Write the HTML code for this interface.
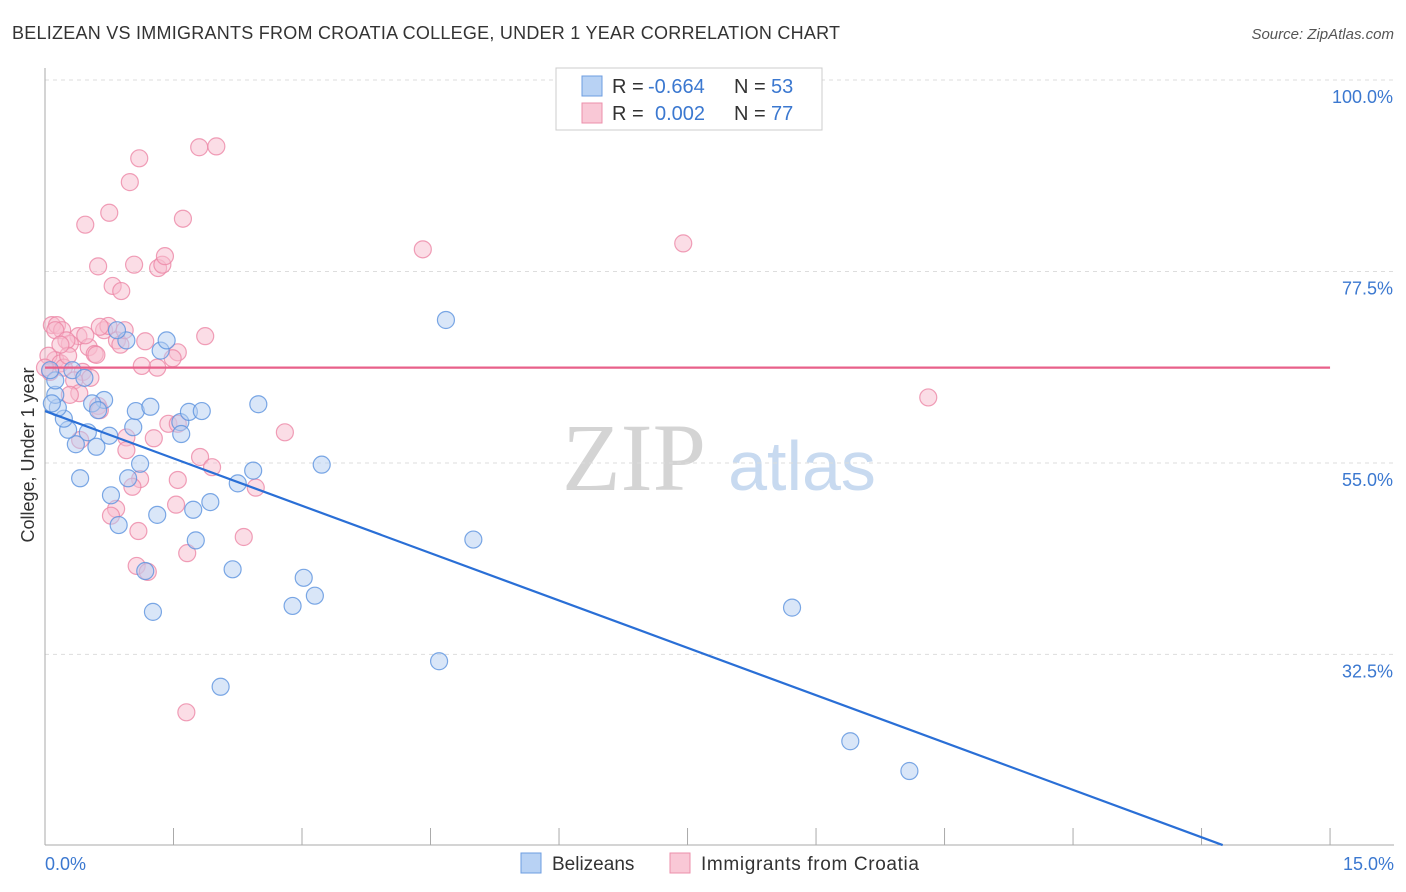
<!DOCTYPE html>
<html><head><meta charset="utf-8"><style>
body{margin:0;background:#fff;font-family:"Liberation Sans",sans-serif;}
#wrap{position:relative;width:1406px;height:892px;overflow:hidden;}
svg{position:absolute;left:0;top:0}
</style></head><body>
<div id="wrap">
<svg id="svg" width="1406" height="892">
<text x="12" y="39" font-size="18" fill="#333" textLength="828">BELIZEAN VS IMMIGRANTS FROM CROATIA COLLEGE, UNDER 1 YEAR CORRELATION CHART</text>
<text x="1394" y="39" font-size="15" fill="#555" font-style="italic" text-anchor="end">Source: ZipAtlas.com</text>
<text x="634" y="490" font-size="96" fill="#d4d4d4" font-family="Liberation Serif,serif" text-anchor="middle">ZIP</text>
<text x="802" y="490" font-size="70" fill="#c8daf0" text-anchor="middle">atlas</text>
<g id="grid"></g><g id="pts"></g><g id="lines"></g>
<text x="34" y="455" font-size="18" fill="#333" text-anchor="middle" transform="rotate(-90 34 455)">College, Under 1 year</text>
<text x="45" y="870" font-size="18" fill="#3b78d0">0.0%</text>
<text x="1394" y="870" font-size="18" fill="#3b78d0" text-anchor="end">15.0%</text>
<g>
<rect x="556" y="68" width="266" height="62" fill="#fff" stroke="#ccc"/>
<rect x="582" y="76" width="20" height="20" fill="#b8d2f4" stroke="#6d9de0"/>
<rect x="582" y="103" width="20" height="20" fill="#f9c8d6" stroke="#ec8fab"/>
<text x="612" y="93" font-size="20" fill="#333">R =</text>
<text x="648" y="93" font-size="20" fill="#3b78d0">-0.664</text>
<text x="734" y="93" font-size="20" fill="#333">N =</text>
<text x="771" y="93" font-size="20" fill="#3b78d0">53</text>
<text x="612" y="120" font-size="20" fill="#333">R =</text>
<text x="655" y="120" font-size="20" fill="#3b78d0">0.002</text>
<text x="734" y="120" font-size="20" fill="#333">N =</text>
<text x="771" y="120" font-size="20" fill="#3b78d0">77</text>
</g>
<g>
<rect x="521" y="853" width="20" height="20" fill="#b8d2f4" stroke="#6d9de0"/>
<text x="552" y="870" font-size="19" fill="#333">Belizeans</text>
<rect x="670" y="853" width="20" height="20" fill="#f9c8d6" stroke="#ec8fab"/>
<text x="701" y="870" font-size="19" fill="#333" textLength="218">Immigrants from Croatia</text>
</g>
</svg>
</div>
<script>
const yTicks=[100,77.5,55,32.5];
const yTickLabels=["100.0%","77.5%","55.0%","32.5%"];
const xTicks=[0,1.5,3,4.5,6,7.5,9,10.5,12,13.5,15];
const blueX=[4.68,2.49,3.23,5.00,8.72,4.60,9.40,10.09,2.05,1.26,2.19,2.89,3.02,3.15,2.43,2.25,1.93,1.73,1.76,1.31,1.17,0.77,0.86,0.41,0.97,1.11,1.03,1.06,1.23,1.58,1.59,1.68,1.83,1.35,1.42,0.95,0.84,0.32,0.46,0.69,0.55,0.62,0.50,0.75,0.60,0.36,0.27,0.22,0.15,0.12,0.08,0.12,0.06];
const blueY=[71.8,61.9,54.8,46.0,38.0,31.7,22.3,18.8,28.7,37.5,42.5,38.2,41.5,39.4,54.1,52.6,50.4,49.5,45.9,48.9,42.3,51.2,47.7,53.2,53.2,54.9,59.2,61.1,61.6,59.8,58.4,61.0,61.1,68.2,69.4,69.4,70.6,65.9,65.0,62.4,62.0,61.2,58.6,58.2,56.9,57.2,58.9,60.2,61.5,63.0,62.0,64.7,65.9];
const pinkX=[1.80,2.00,1.10,0.99,0.75,0.47,1.61,4.41,7.45,0.62,1.04,1.32,1.37,1.40,0.79,0.89,10.31,0.08,0.14,0.20,0.12,0.39,0.29,0.25,0.69,0.74,1.17,1.87,0.84,0.51,0.58,0.12,0.04,0.18,0.06,0.22,0.44,0.53,0.34,0.40,0.62,1.55,1.49,1.31,1.13,2.80,1.44,1.55,1.27,0.95,0.41,0.95,1.81,1.95,1.11,1.55,1.02,2.46,2.32,1.53,0.83,0.77,1.09,1.66,1.07,1.20,1.65,0.64,0.88,0.00,0.27,0.64,0.29,0.18,0.60,0.93,0.47];
const pinkY=[92.1,92.2,90.8,88.0,84.4,83.0,83.7,80.1,80.8,78.1,78.3,77.9,78.3,79.3,75.8,75.2,62.7,71.2,71.2,70.6,70.6,69.9,69.0,69.4,70.6,71.1,69.3,69.9,69.4,68.6,67.8,67.1,67.6,66.7,65.7,66.2,65.7,65.0,64.7,63.2,61.7,68.0,67.3,66.2,66.4,58.6,59.6,59.6,57.9,58.0,57.7,56.5,55.7,54.5,53.1,53.0,52.2,52.1,46.3,50.1,49.6,48.8,47.0,44.4,42.9,42.2,25.7,71.0,68.9,66.2,67.6,61.2,63.0,68.9,67.7,70.6,70.0];
const blueTrend=[61.1,-3.71];
const pinkTrend=[66.2,0.0];
const NS="http://www.w3.org/2000/svg";
const X=v=>45+v*85.67, Y=v=>80+(100-v)*8.51;
function mk(t,a,p){const e=document.createElementNS(NS,t);for(const k in a)e.setAttribute(k,a[k]);p.appendChild(e);return e;}
const grid=document.getElementById('grid'),pts=document.getElementById('pts'),lines=document.getElementById('lines');
yTicks.forEach((t,i)=>{
 const l=mk('line',{x1:45,x2:1394,y1:Y(t),y2:Y(t),stroke:'#ddd','stroke-dasharray':'4 4'},grid);
 
 
 const tx=mk('text',{x:1393,y:Y(t)+23,'font-size':18,fill:'#3b78d0','text-anchor':'end'},grid);
 tx.textContent=yTickLabels[i];
 
 
});
const ax=mk('line',{x1:45,x2:45,y1:68,y2:845,stroke:'#aaa'},grid);


const bx=mk('line',{x1:45,x2:1394,y1:845,y2:845,stroke:'#aaa'},grid);


xTicks.forEach(t=>{
 const l=mk('line',{x1:X(t),x2:X(t),y1:828,y2:845,stroke:'#aaa'},grid);
 
 
});
function series(xs,ys,fill,stroke,name){xs.forEach((x,i)=>{
 const c=mk('circle',{cx:X(x),cy:Y(ys[i]),r:8.5,fill:fill,'fill-opacity':0.5,stroke:stroke,'stroke-opacity':0.8,'stroke-width':1.2},pts);
 
 
});}
series(pinkX,pinkY,'#f7bccd','#ec87a6','point-croatia');
series(blueX,blueY,'#b3cdf2','#5b92de','point-belizean');
const bEnd=(10.1-blueTrend[0])/blueTrend[1];
const tb=mk('line',{x1:X(0),y1:Y(blueTrend[0]),x2:X(bEnd),y2:Y(10.1),stroke:'#2a6fd6','stroke-width':2.2},lines);


const tp=mk('line',{x1:X(0),y1:Y(pinkTrend[0]),x2:X(15),y2:Y(pinkTrend[0]+pinkTrend[1]*15),stroke:'#e8608a','stroke-width':2.2},lines);


</script>
</body></html>
